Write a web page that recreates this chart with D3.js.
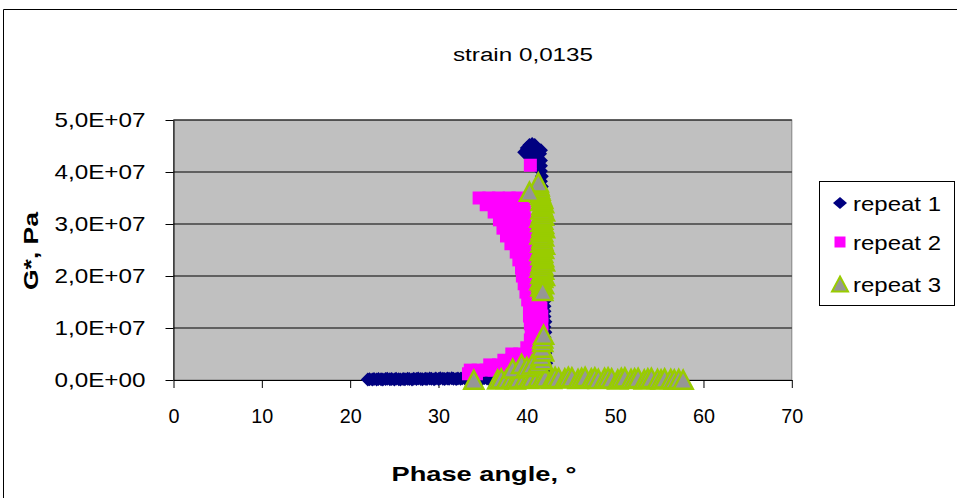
<!DOCTYPE html>
<html><head><meta charset="utf-8">
<script src="https://cdn.jsdelivr.net/npm/d3@7"></script>
<style>html,body{margin:0;padding:0;background:#fff;} svg{display:block;font-family:"Liberation Sans",Arial,sans-serif;}</style>
</head><body><svg id="c" width="957" height="498"></svg>
<script>
// ---------- data ----------
const chartTitle = "strain 0,0135";
const xTitle = "Phase angle, \u00b0";
const yTitle = "G*, Pa";
const seriesNames = ["repeat 1", "repeat 2", "repeat 3"];
const xTicks = [0, 10, 20, 30, 40, 50, 60, 70];
const xTickLabels = ["0", "10", "20", "30", "40", "50", "60", "70"];
const yTicks = [0, 1e7, 2e7, 3e7, 4e7, 5e7];
const yTickLabels = ["0,0E+00", "1,0E+07", "2,0E+07", "3,0E+07", "4,0E+07", "5,0E+07"];

// repeat 1 (phase angle in degrees, G* in Pa)
const r1Phase = [
  22.0,22.2,22.5,22.7,23.0,23.2,23.5,23.7,24.0,24.2,24.5,24.7,25.0,25.2,25.5,25.7,26.0,26.2,26.5,26.7,
  27.0,27.2,27.5,27.7,28.0,28.2,28.5,28.7,29.0,29.2,29.5,29.7,30.0,30.2,30.5,30.7,31.0,31.2,31.5,31.7,
  32.0,32.2,32.5,32.7,33.0,33.2,33.5,33.7,34.0,34.2,34.5,34.7,35.0,35.2,35.5,35.7,36.0,36.2,36.5,36.7,
  37.0,37.2,37.5,37.7,38.0,38.2,38.5,38.7,39.0,39.2,39.5,39.7,40.0,40.2,40.5,40.7,41.0,41.2,41.5,41.7,42.0,
  42.1,42.1,42.2,42.1,42.1,42.1,42.1,42.0,42.1,42.0,42.1,42.0,42.0,42.0,42.0,42.0,41.9,42.0,41.9,41.9,
  41.9,41.9,41.9,41.8,41.9,41.8,41.8,41.8,41.8,41.8,41.7,41.8,41.7,41.7,41.7,41.7,41.7,41.6,41.7,41.6,41.6,41.6,
  41.5,41.2,40.9,40.6,40.3,40.0,39.7,40.1,40.5,40.9,41.3,41.6,41.0,40.6];
const r1G = [
  1.0e5,1.5e5,0.8e5,1.8e5,1.2e5,2.0e5,1.4e5,0.9e5,1.7e5,2.2e5,1.3e5,1.9e5,1.1e5,2.4e5,1.6e5,1.0e5,2.1e5,1.5e5,2.6e5,1.8e5,
  1.2e5,2.3e5,1.7e5,2.8e5,2.0e5,1.4e5,2.5e5,1.9e5,3.0e5,2.2e5,1.6e5,2.7e5,2.1e5,3.2e5,2.4e5,1.8e5,2.9e5,2.3e5,3.4e5,2.6e5,
  2.0e5,3.1e5,2.5e5,3.5e5,2.8e5,2.2e5,3.3e5,2.7e5,3.6e5,3.0e5,2.4e5,3.4e5,2.9e5,3.8e5,3.1e5,2.6e5,3.6e5,3.0e5,4.0e5,3.3e5,
  2.8e5,3.8e5,3.2e5,4.2e5,3.5e5,3.0e5,4.0e5,3.4e5,4.4e5,3.7e5,3.2e5,4.3e5,3.8e5,4.8e5,4.2e5,5.0e5,5.5e5,6.0e5,6.8e5,7.5e5,8.5e5,
  1.2e6,2.2e6,3.2e6,4.2e6,5.2e6,6.2e6,7.2e6,8.2e6,9.2e6,1.02e7,1.12e7,1.22e7,1.32e7,1.42e7,1.52e7,1.62e7,1.72e7,1.82e7,1.92e7,2.02e7,
  2.12e7,2.22e7,2.32e7,2.42e7,2.52e7,2.62e7,2.72e7,2.82e7,2.92e7,3.02e7,3.12e7,3.22e7,3.32e7,3.42e7,3.52e7,3.62e7,3.72e7,3.82e7,3.92e7,4.02e7,4.12e7,4.22e7,
  4.35e7,4.45e7,4.52e7,4.54e7,4.52e7,4.46e7,4.38e7,4.32e7,4.25e7,4.22e7,4.25e7,4.42e7,4.35e7,4.4e7];

// repeat 2
const r2Phase = [
  34.6,35.7,36.8,38.0,39.0, 35.4,36.5,37.7,38.8,39.7, 36.3,37.4,38.6,39.7, 36.9,37.9,38.9,39.8,
  37.3,38.3,39.4,40.1, 37.7,38.7,39.7,40.4, 38.2,39.2,40.1, 38.8,39.7,40.5, 39.1,39.9,40.6,
  39.4,40.2,40.8, 39.5,40.3,40.9, 39.7,40.5,41.2, 39.9,40.7,41.4, 40.1,40.9,41.5, 40.3,41.0,41.6,
  40.3,41.0,41.7, 40.4,41.2,41.7, 40.5,41.2,41.7, 40.4,41.2,41.8, 40.0,40.9,41.8,
  38.3,39.2,40.1,41.0,41.6, 37.4,38.3,39.2,40.1,41.0, 35.8,36.8,37.7,38.6,39.5,40.4,
  33.6,34.5,35.4,36.3,37.2,38.1,39.0, 33.4,34.3,
  40.4];
const r2G = [
  3.5e7,3.5e7,3.5e7,3.5e7,3.5e7, 3.37e7,3.37e7,3.37e7,3.37e7,3.37e7, 3.23e7,3.23e7,3.23e7,3.23e7, 3.08e7,3.08e7,3.08e7,3.08e7,
  2.92e7,2.92e7,2.92e7,2.92e7, 2.77e7,2.77e7,2.77e7,2.77e7, 2.62e7,2.62e7,2.62e7, 2.46e7,2.46e7,2.46e7, 2.31e7,2.31e7,2.31e7,
  2.15e7,2.15e7,2.15e7, 2.0e7,2.0e7,2.0e7, 1.85e7,1.85e7,1.85e7, 1.69e7,1.69e7,1.69e7, 1.54e7,1.54e7,1.54e7, 1.38e7,1.38e7,1.38e7,
  1.23e7,1.23e7,1.23e7, 1.08e7,1.08e7,1.08e7, 9.2e6,9.2e6,9.2e6, 7.7e6,7.7e6,7.7e6, 6.2e6,6.2e6,6.2e6,
  5.0e6,5.0e6,5.0e6,5.0e6,5.0e6, 3.8e6,3.8e6,3.8e6,3.8e6,3.8e6, 2.9e6,2.9e6,2.9e6,2.9e6,2.9e6,2.9e6,
  1.9e6,1.9e6,1.9e6,1.9e6,1.9e6,1.9e6,1.9e6, 1.2e6,1.2e6,
  4.13e7];

// repeat 3
const r3Phase = [
  34.0,36.7,37.1,37.7,38.3,38.7,39.1,39.8,40.2,40.6,41.3,41.7,42.1,42.8,43.2,43.6,44.3,44.7,45.1,45.8,
  46.2,46.6,47.3,47.7,48.1,48.8,49.2,49.6,50.3,50.7,51.1,51.8,52.2,52.6,53.3,53.7,54.1,54.8,55.2,55.6,
  56.3,56.7,57.2,57.7,
  38.4,39.4,40.0,40.6,41.3,41.8,41.6,41.9,41.7,41.8,41.8,41.9,
  41.8,41.6,41.9,41.7,41.5,41.8,42.0,41.6,41.7,41.9,41.5,41.8,41.6,42.0,41.7,41.9,41.6,41.8,41.5,41.9,
  41.7,42.0,41.6,41.8,41.7,41.9,41.5,41.8,41.6,42.0,41.7,41.9,41.6,41.8,41.5,41.9,41.7,42.0,41.6,41.8,
  41.7,41.9,41.6,41.8,41.7,41.6,41.5,41.5,41.4,41.4,41.3,41.3,
  40.3,41.8];
const r3G = [
  0.5e5,1e5,3e5,2e5,4e5,1e5,3e5,5e5,2e5,4e5,6e5,3e5,5e5,2e5,6e5,4e5,3e5,6e5,5e5,2e5,
  4e5,6e5,3e5,5e5,2e5,4e5,5e5,3e5,1e5,4e5,5e5,2e5,3e5,4e5,1e5,3e5,4e5,2e5,1e5,3e5,
  2e5,1e5,2e5,0.5e5,
  2.2e6,3.1e6,2.5e6,3.0e6,3.2e6,3.8e6,4.6e6,5.5e6,6.2e6,7.3e6,8.0e6,8.7e6,
  1.76e7,1.80e7,1.84e7,1.88e7,1.92e7,1.96e7,2.00e7,2.04e7,2.08e7,2.12e7,2.16e7,2.20e7,2.24e7,2.28e7,2.32e7,2.36e7,2.40e7,2.44e7,2.48e7,2.52e7,
  2.56e7,2.60e7,2.64e7,2.68e7,2.72e7,2.76e7,2.80e7,2.84e7,2.88e7,2.92e7,2.96e7,3.00e7,3.04e7,3.08e7,3.12e7,3.16e7,3.20e7,3.24e7,3.28e7,3.32e7,
  3.36e7,3.40e7,3.44e7,3.48e7,3.52e7,3.56e7,3.60e7,3.64e7,3.68e7,3.72e7,3.76e7,3.80e7,
  3.62e7,1.71e7];

// ---------- drawing ----------
const svg = d3.select("#c");
const W = 957, H = 498;
const x = d3.scaleLinear().domain([0, 70]).range([173.5, 791.8]);
const y = d3.scaleLinear().domain([0, 5e7]).range([380, 120]);
const font = '"Liberation Sans", Arial, sans-serif';

// outer chart border (cropped)
svg.append("path").attr("d", `M3.5,${H}V9.5H${W}`).attr("fill", "none").attr("stroke", "#000").attr("stroke-width", 1);

// title
svg.append("text").attr("x", 523).attr("y", 61).attr("text-anchor", "middle")
  .attr("font-size", 18).attr("textLength", 140).attr("lengthAdjust", "spacingAndGlyphs").text(chartTitle);

// plot area
svg.append("rect").attr("x", x(0)).attr("y", y(5e7)).attr("width", x(70) - x(0)).attr("height", y(0) - y(5e7))
  .attr("fill", "#c0c0c0").attr("stroke", "#808080").attr("stroke-width", 1);

// gridlines
svg.append("g").selectAll("line").data(yTicks.filter(d => d > 0)).join("line")
  .attr("x1", x(0)).attr("x2", x(70)).attr("y1", d => y(d)).attr("y2", d => y(d))
  .attr("stroke", "#000").attr("stroke-width", 1);

// axes
const yAxis = svg.append("g").attr("transform", `translate(${x(0)},0)`)
  .call(d3.axisLeft(y).tickValues(yTicks).tickFormat((d, i) => yTickLabels[i]).tickSize(8).tickPadding(20).tickSizeOuter(0));
yAxis.select(".domain").attr("stroke", "#000");
yAxis.selectAll(".tick line").attr("stroke", "#000");
yAxis.selectAll("text").attr("font-size", 21).attr("font-family", font).attr("fill", "#000")
  .attr("textLength", 91).attr("lengthAdjust", "spacingAndGlyphs");

const xAxis = svg.append("g").attr("transform", `translate(0,${y(0)})`)
  .call(d3.axisBottom(x).tickValues(xTicks).tickFormat((d, i) => xTickLabels[i]).tickSize(8).tickPadding(20).tickSizeOuter(0));
xAxis.select(".domain").attr("stroke", "#000");
xAxis.selectAll(".tick line").attr("stroke", "#000");
xAxis.selectAll("text").attr("font-size", 21).attr("font-family", font).attr("fill", "#000")
  .attr("textLength", (d, i) => xTickLabels[i].length * 11).attr("lengthAdjust", "spacingAndGlyphs");

// axis titles
svg.append("text").attr("x", 484).attr("y", 481).attr("text-anchor", "middle")
  .attr("font-size", 21).attr("font-weight", "bold").attr("textLength", 185).attr("lengthAdjust", "spacingAndGlyphs").text(xTitle);
svg.append("text").attr("transform", "translate(38,251) rotate(-90)").attr("text-anchor", "middle")
  .attr("font-size", 21).attr("font-weight", "bold").attr("textLength", 78).attr("lengthAdjust", "spacingAndGlyphs").text(yTitle);

// markers
const diamond = "M0,-7L7,0L0,7L-7,0Z";
const square = "M-6.5,-6.5H6.5V6.5H-6.5Z";
const triangle = "M0,-9L9.5,9L-9.5,9Z";
const series = [
  { px: r1Phase, g: r1G, path: diamond, fill: "#000080", stroke: "none", sw: 0 },
  { px: r2Phase, g: r2G, path: square, fill: "#ff00ff", stroke: "none", sw: 0 },
  { px: r3Phase, g: r3G, path: triangle, fill: "#969696", stroke: "#99cc00", sw: 2.5 }
];
series.forEach(s => {
  svg.append("g").selectAll("path").data(s.px.map((p, i) => [p, s.g[i]])).join("path")
    .attr("transform", d => `translate(${x(d[0])},${y(d[1])})`)
    .attr("d", s.path).attr("fill", s.fill).attr("stroke", s.stroke).attr("stroke-width", s.sw)
    .attr("stroke-linejoin", "miter");
});

// legend
const lg = svg.append("g");
lg.append("rect").attr("x", 819.5).attr("y", 181.5).attr("width", 135).attr("height", 124)
  .attr("fill", "#fff").attr("stroke", "#000").attr("stroke-width", 1);
const legSym = ["M0,-6L7,0L0,6L-7,0Z", "M-5.5,-5.5H5.5V5.5H-5.5Z", "M0,-7.5L8,7.5L-8,7.5Z"];
const legY = [203, 242, 284];
seriesNames.forEach((n, i) => {
  lg.append("path").attr("transform", `translate(840,${legY[i]})`).attr("d", legSym[i])
    .attr("fill", series[i].fill).attr("stroke", series[i].stroke).attr("stroke-width", i === 2 ? 2 : 0);
  lg.append("text").attr("x", 853).attr("y", legY[i] + 7.5).attr("font-size", 21)
    .attr("textLength", 88).attr("lengthAdjust", "spacingAndGlyphs").text(n);
});
</script></body></html>
